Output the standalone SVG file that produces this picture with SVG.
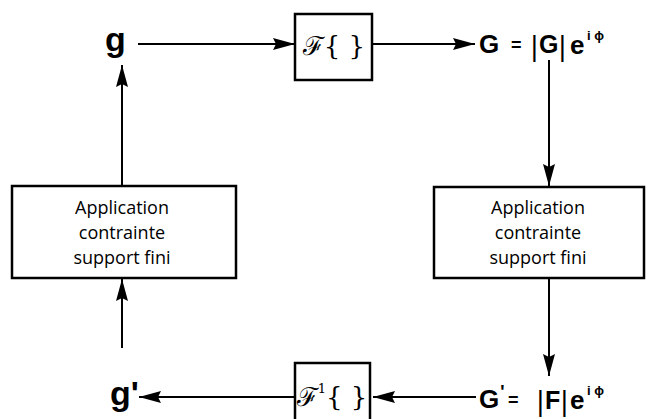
<svg xmlns="http://www.w3.org/2000/svg" width="654" height="419" viewBox="0 0 654 419">
<style>
.box{fill:#fff;stroke:#000;stroke-width:2.5}
.ln{stroke:#000;stroke-width:2;fill:none}
.lbl{font-family:"Open Sans","Liberation Sans",sans-serif;font-size:18px;text-anchor:middle;fill:#000}
.sym{font-family:"Liberation Sans",Arial,sans-serif;font-weight:bold;fill:#000}
.bar{font-family:"DejaVu Sans",sans-serif;fill:#000}
.op{font-family:"DejaVu Serif","Liberation Serif",serif;fill:#000}
</style>
<defs>
<marker id="ahl" markerWidth="22" markerHeight="12" refX="22" refY="6" orient="auto" markerUnits="userSpaceOnUse">
<path d="M0,0 L22,6 L0,12 L3,6 Z" fill="#000"/>
</marker>
</defs>
<g id="connectors">
<line class="ln" x1="138" y1="44" x2="295" y2="44" marker-end="url(#ahl)"/>
<line class="ln" x1="373" y1="44" x2="475" y2="44" marker-end="url(#ahl)"/>
<line class="ln" x1="549" y1="60" x2="549" y2="186" marker-end="url(#ahl)"/>
<line class="ln" x1="549" y1="278" x2="549" y2="376" marker-end="url(#ahl)"/>
<line class="ln" x1="476" y1="397" x2="373" y2="397" marker-end="url(#ahl)"/>
<line class="ln" x1="295" y1="397" x2="139" y2="397" marker-end="url(#ahl)"/>
<line class="ln" x1="122" y1="348" x2="122" y2="279" marker-end="url(#ahl)"/>
<line class="ln" x1="122" y1="186" x2="122" y2="65" marker-end="url(#ahl)"/>
</g>
<g id="g">
<text class="sym" x="105" y="51" font-size="34">g</text>
</g>
<g id="F">
<rect class="box" x="295" y="14" width="77" height="66"/>
<text class="op" x="334" y="55" font-size="26" text-anchor="middle">ℱ{ }</text>
</g>
<g id="G">
<text class="sym" x="479" y="53" font-size="26">G</text>
<text class="sym" x="511" y="51" font-size="18">=</text>
<text class="bar" x="530" y="55" font-size="26">|</text>
<text class="sym" x="539" y="53" font-size="25">G</text>
<text class="bar" x="558" y="55" font-size="26">|</text>
<text class="sym" x="570" y="54" font-size="26">e</text>
<text class="sym" x="587" y="40" font-size="13">i ϕ</text>
</g>
<g id="constraint-right">
<rect class="box" x="434" y="187" width="210" height="91"/>
<text class="lbl" x="538" y="214">Application</text>
<text class="lbl" x="538" y="239">contrainte</text>
<text class="lbl" x="538" y="264">support fini</text>
</g>
<g id="Gp">
<text class="sym" x="479" y="408" font-size="26">G<tspan font-size="18" dx="1" dy="-10">'</tspan></text>
<text class="sym" x="508" y="406" font-size="18">=</text>
<text class="bar" x="536" y="410" font-size="26">|</text>
<text class="sym" x="545" y="409" font-size="25">F</text>
<text class="bar" x="560" y="410" font-size="26">|</text>
<text class="sym" x="570" y="409" font-size="26">e</text>
<text class="sym" x="587" y="395" font-size="13">i ϕ</text>
</g>
<g id="Finv">
<rect class="box" x="295" y="363" width="75" height="70"/>
<text class="op" x="332" y="406" font-size="26" text-anchor="middle">ℱ<tspan font-size="13" dy="-13">1</tspan><tspan dy="13">{ }</tspan></text>
</g>
<g id="gp">
<text class="sym" x="110" y="405" font-size="34">g'</text>
</g>
<g id="constraint-left">
<rect class="box" x="12" y="186" width="224" height="92"/>
<text class="lbl" x="122" y="214">Application</text>
<text class="lbl" x="122" y="239">contrainte</text>
<text class="lbl" x="122" y="264">support fini</text>
</g>
</svg>
